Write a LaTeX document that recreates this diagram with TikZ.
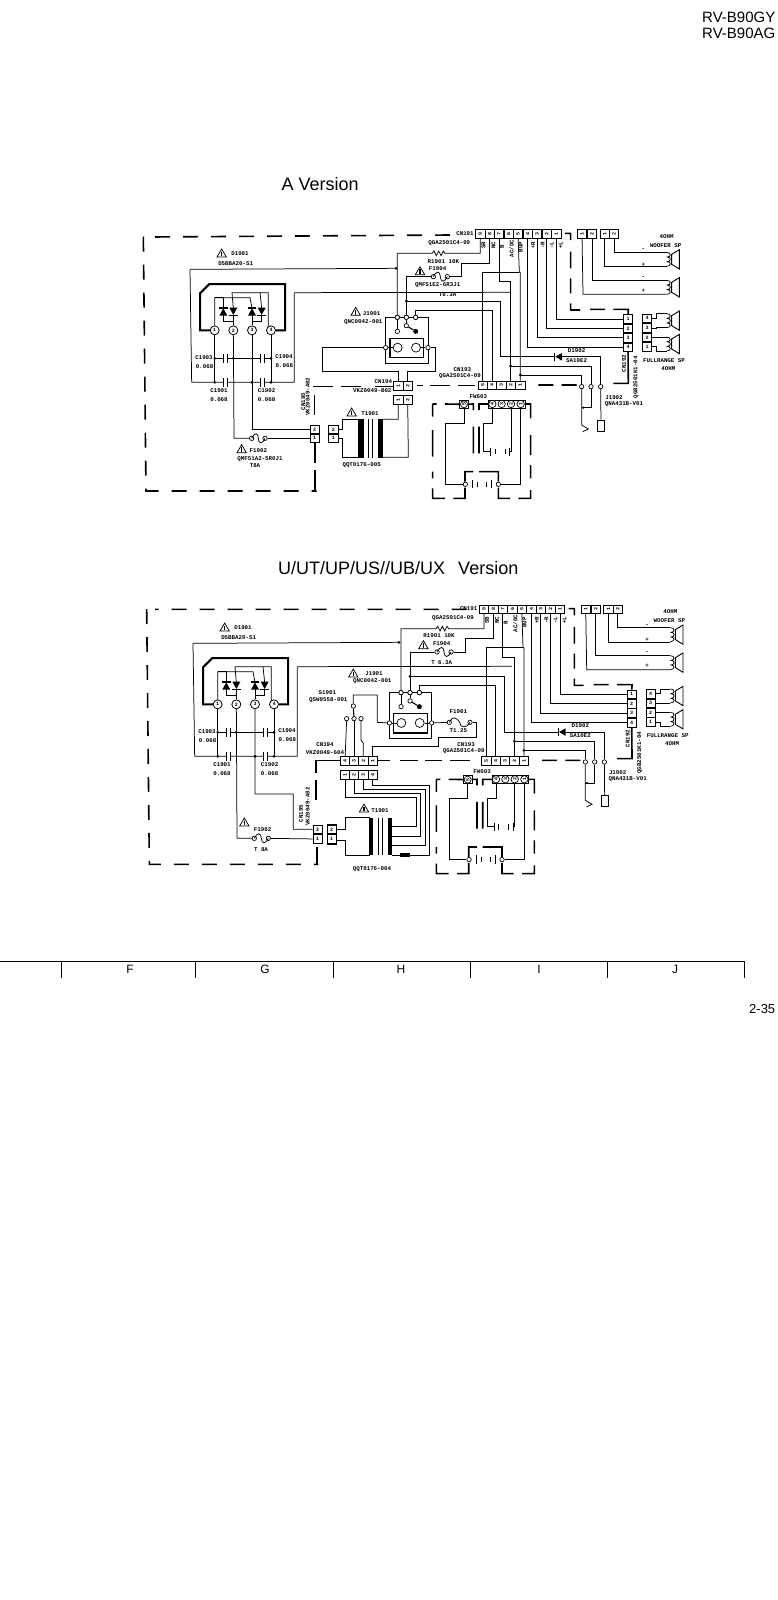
\documentclass[tikz,border=0pt]{standalone}
\usepackage{fontspec}
\setmainfont{Liberation Sans}
\newfontfamily\schfam{Liberation Mono}
\newcounter{labn}
\newcommand\schf{\schfam\bfseries\fontsize{5.8}{6}\selectfont}
\newcommand\pinf{\schfam\bfseries\fontsize{5}{5}\selectfont}
\tikzset{
 wire/.style={line width=.75pt,line join=miter},
 bord/.style={line width=1.6pt},
 heavy/.style={line width=2pt},
 pinbox/.style={draw,line width=.7pt,minimum width=9.3pt,minimum height=8.8pt,inner sep=0pt,font=\pinf,fill=white},
 term/.style={circle,draw,line width=.7pt,fill=white,minimum size=4.4pt,inner sep=0pt},
 numc/.style={circle,draw,line width=.8pt,fill=white,minimum size=9pt,inner sep=0pt,font=\pinf},
 jdot/.style={circle,fill=black,minimum size=3pt,inner sep=0pt},
 lab/.style={inner sep=0pt,font=\schf},
 big/.style={inner sep=0pt,anchor=base west},
}
\newcommand\lab[3]{\stepcounter{labn}\node[lab] (t\thelabn) at (#1,#2) {#3};}
\newcommand\rlab[3]{\stepcounter{labn}\node[lab,rotate=90] (t\thelabn) at (#1,#2) {#3};}
\newcommand\warn[2]{\draw[wire] (#1-14,#2+11)--(#1,#2-13)--(#1+14,#2+11)--cycle; \draw[line width=1.1pt] (#1,#2-5)--(#1,#2+9);}
\newcommand\capc[2]{\fill[white] (#1-6,#2-3) rectangle (#1+6,#2+3);
 \draw[line width=1pt] (#1-6,#2-13)--(#1-6,#2+13) (#1+6,#2-13)--(#1+6,#2+13);}
\newcommand\dup[2]{\fill (#1-12,#2+12)--(#1+12,#2+12)--(#1,#2-10)--cycle; \draw[line width=1.1pt] (#1-13,#2-11)--(#1+13,#2-11);}
\newcommand\ddn[2]{\fill (#1-12,#2-12)--(#1+12,#2-12)--(#1,#2+10)--cycle; \draw[line width=1.1pt] (#1-13,#2+11)--(#1+13,#2+11);}
\newcommand\scurve[3]{\draw[wire] (#1,#3) .. controls (#1+9,#3-18) and (#1+20,#3-18) .. ({(#1+#2)/2},#3) .. controls ({(#1+#2)/2+1},#3+18) and (#2-9,#3+18) .. (#2,#3);}
\newcommand\spk[1]{%
 \draw[wire] (800,#1-21) .. controls (814,#1-21) and (814,#1-7) .. (802,#1-7)
   .. controls (814,#1-7) and (814,#1+7) .. (802,#1+7)
   .. controls (814,#1+7) and (814,#1+21) .. (800,#1+21);
 \draw[line width=.9pt] (815,#1-15)--(838,#1-29)--(838,#1+29)--(815,#1+15)--cycle;}
\newcommand\leftblock[1]{
 \foreach \n/\x in {1/254,2/310,3/366,4/423}{\node[numc] (#1c\n) at (\x,346) {\n};}
 \draw[heavy] (#1c1) -- (210,346) -- (210,235) -- (238,207) -- (465,207) -- (465,346) -- (#1c4);
 \draw[wire] (#1c1) -- (254,248) -- (360,248) -- (366,280);
 \draw[wire] (254,248) -- (280,248) -- (280,280);
 \draw[wire] (310,280) -- (306,233) -- (415,233) -- (415,336);
 \draw[wire] (395,280) -- (390,233);
 \draw[wire] (280,300) -- (280,320) -- (310,320);
 \draw[wire] (395,300) -- (395,320) -- (366,320);
 \draw[wire] (#1c2) -- (310,300);
 \draw[wire] (#1c3) -- (366,300);
 \dup{280}{290}\ddn{310}{290}\dup{366}{290}\ddn{395}{290}
 \draw[wire] (#1c1) -- (254,502);
 \draw[wire] (#1c4) -- (423,502);
 \draw[wire] (254,430) -- (423,430);
 \draw[wire] (180,163) -- (185,502) -- (493,502) -- (493,233);
 \capc{285}{430}\capc{398}{430}\capc{285}{502}\capc{398}{502}
 \foreach \x/\y in {254/430,310/430,423/430,254/502,366/502,423/502}{\node[jdot] at (\x,\y) {};}
 \warn{275}{115}
 \lab{330}{117}{D1901}\lab{317}{145}{D5BBA20-S1}
 \lab{222}{428}{C1903}\lab{224}{455}{0.068}
 \lab{462}{425}{C1904}\lab{463}{453}{0.068}
 \lab{267}{527}{C1901}\lab{267}{555}{0.068}
 \lab{410}{527}{C1902}\lab{410}{555}{0.068}
}
\newcommand\rightblock[1]{
 \foreach \n/\x in {9/241,8/269,7/297,6/326,5/354,4/383,3/411,2/440,1/469}{\node[pinbox] (#1p\n) at (\x,57) {\rotatebox{90}{\n}};}
 \foreach \n/\x in {5/248,4/276,3/304,2/332,1/361}{\node[pinbox] (#1q\n) at (\x,511) {\rotatebox{90}{\n}};}
 \node[pinbox] (#1sa) at (546,57) {\rotatebox{90}{1}};
 \node[pinbox] (#1sb) at (576,57) {\rotatebox{90}{2}};
 \node[pinbox] (#1sc) at (614,57) {\rotatebox{90}{1}};
 \node[pinbox] (#1sd) at (642,57) {\rotatebox{90}{2}};
 \foreach \n/\y in {1/312,2/340,3/368,4/397}{\node[pinbox] (#1r\n) at (684,\y) {\n};}
 \foreach \n/\y in {4/310,3/339,2/367,1/395}{\node[pinbox] (#1f\n) at (741,\y) {\n};}
 \node[term] (#1Jl) at (-8,307) {};
 \node[term] (#1Jm) at (19,307) {};
 \node[term] (#1Jr) at (47,307) {};
 \node[term] (#1Jb) at (-8,349) {};
 \node[term] (#1Jc) at (19,332) {};
 \node[circle,fill=black,minimum size=5pt,inner sep=0pt] (#1Jd) at (47,349) {};
 \draw[wire] (-43,307) rectangle (84,445);
 \node[term] (#1Jl) at (-8,307) {};
 \node[term] (#1Jm) at (19,307) {};
 \node[term] (#1Jr) at (47,307) {};
 \node[term] (#1Ja) at (-43,398) {};
 \node[term] (#1Je) at (84,398) {};
 \draw[line width=1.4pt,fill=white] (-30,370) rectangle (71,428);
 \node[circle,draw,line width=.7pt,minimum size=9pt,inner sep=0pt] (#1Jp) at (-7,398) {};
 \node[circle,draw,line width=.7pt,minimum size=9pt,inner sep=0pt] (#1Jq) at (48,398) {};
 \draw[wire] (#1Jl) -- (#1Jb);
 \draw[wire] (#1Jm) -- (#1Jc);
 \draw[line width=1.1pt] (#1Jc) -- (#1Jd);
 \draw[wire] (#1Ja) -- (#1Jp) (#1Jq) -- (#1Je);
 \draw[wire] (#1p9) -- (241,115) -- (135,115) -- (130,108) -- (123,122) -- (116,108) -- (109,122) -- (102,108) -- (97,115) -- (-8,115) -- (#1Jl);
 \node[term] (#1Fa) at (100,185) {};
 \node[term] (#1Fb) at (142,185) {};
 \scurve{100}{142}{185}
 \draw[wire] (#1p8) -- (269,145) -- (185,145) -- (185,185) -- (#1Fb);
 \draw[wire] (#1Fa) -- (19,185) -- (#1Jm);
 \draw[wire] (#1p7) -- (297,200) -- (332,200) -- (#1q2);
 \draw[wire] (#1p5) -- (358,172) -- (361,172) -- (#1q1);
 \draw[wire] (358,172) -- (248,172) -- (#1q5);
 \draw[wire] (#1Jr) -- (47,285) -- (276,285) -- (#1q4);
 \draw[wire] (#1p4) -- (383,397) -- (#1r4);
 \draw[wire] (#1p3) -- (411,368) -- (#1r3);
 \draw[wire] (#1p2) -- (440,340) -- (#1r2);
 \draw[wire] (#1p1) -- (469,312) -- (#1r1);
 \node[term] (#1ja) at (545,515) {};
 \node[term] (#1jb) at (573,515) {};
 \node[term] (#1jc) at (602,515) {};
 \draw[wire] (19,258) -- (302,258) -- (302,425) -- (463,425);
 \fill (486,414)--(486,437)--(466,425)--cycle;
 \draw[line width=1.1pt] (464,413)--(464,438);
 \draw[wire] (486,425) -- (602,425) -- (#1jc);
 \draw[wire] (332,453) -- (573,453) -- (#1jb);
 \draw[wire] (361,480) -- (545,480) -- (#1ja);
 \node[jdot] (#1d1) at (19,258) {};
 \node[jdot] (#1d2) at (332,453) {};
 \node[jdot] (#1d3) at (361,480) {};
 \draw[wire] (#1ja) -- (545,630) -- (565,642) -- (548,650);
 \draw[wire] (#1jb) -- (573,578) -- (545,578);
 \node[jdot,minimum size=2.4pt] (#1d4) at (550,578) {};
 \node[draw,line width=.7pt,minimum width=7pt,minimum height=11.5pt,inner sep=0pt] (#1jp) at (603,632) {};
 \draw[wire] (#1jc) -- (#1jp);
 \draw[wire] (#1sd) -- (642,112) -- (800,112);
 \draw[wire] (#1sc) -- (614,155) -- (800,155);
 \spk{133}
 \draw[wire] (#1sb) -- (576,195) -- (800,195);
 \draw[wire] (#1sa) -- (549,238) -- (800,238);
 \spk{217}
 \spk{317}\spk{387}
 \draw[wire] (#1f4) -- (770,310) -- (770,296) -- (800,296);
 \draw[wire] (#1f3) -- (770,339) -- (770,338) -- (800,338);
 \draw[wire] (#1f2) -- (770,367) -- (770,366) -- (800,366);
 \draw[wire] (#1f1) -- (770,395) -- (770,408) -- (800,408);
 \draw[bord] (495,55) -- (512,55) -- (512,75) (512,110) -- (512,160) (512,190) -- (512,235) (512,265) -- (512,285) -- (540,285)
   (570,283) -- (615,283) (640,283) -- (685,283) -- (#1r1);
 \draw[bord] (415,510) -- (460,510) (485,510) -- (530,510) (640,505) -- (685,505) -- (#1r4);
 \node[pinbox,minimum size=8.5pt,line width=.9pt] (#1w5b) at (192,568) {};
 \node[term,minimum size=7pt,font=\pinf] (#1w5) at (192,568) {\rotatebox{90}{5}};
 \draw[line width=.9pt] (265,555) rectangle (375,580);
 \foreach \n/\x in {4/277,3/305,2/333,1/362}{\node[term,minimum size=7.4pt,font=\pinf] (#1w\n) at (\x,567) {\rotatebox{90}{\n}};}
 \draw[bord] (98,567) -- (98,605) (98,645) -- (98,725) (98,770) -- (98,790) (98,820) -- (98,850) -- (135,850)
   (98,567) -- (110,567) (135,567) -- (#1w5b) (#1w5b) -- (220,567) -- (220,585) (237,585) -- (237,567) -- (265,567)
   (375,567) -- (392,567) -- (392,610) (392,660) -- (392,720) (392,750) -- (392,790) (392,825) -- (392,850) -- (355,850)
   (220,635) -- (220,715) (237,635) -- (237,715)
   (220,770) -- (195,770) -- (195,800) (237,770) -- (295,770) -- (295,800)
   (195,818) -- (195,850) -- (160,850) (295,818) -- (295,850) -- (330,850);
 \node[term] (#1wa) at (196,808) {};
 \node[term] (#1wb) at (295,808) {};
 \draw[wire] (#1w5b) -- (192,625) -- (137,625) -- (137,808) -- (#1wa);
 \draw[wire] (#1w1) -- (362,808) -- (#1wb);
 \draw[wire] (#1w4) -- (277,625) -- (250,625) -- (250,708) -- (272,708);
 \draw[wire] (#1w2) -- (333,708) -- (328,708);
 \draw[line width=.9pt] (218,795)--(218,820) (232,800)--(232,815) (260,800)--(260,815) (275,795)--(275,820);
 \draw[line width=.9pt] (272,698)--(272,722) (285,702)--(285,718) (315,702)--(315,718) (328,698)--(328,722);
 \lab{195}{55}{CN191}\lab{148}{83}{QGA2501C4-09}
 \rlab{250}{90}{SB}\rlab{280}{90}{NC}\rlab{306}{96}{B}\rlab{335}{100}{AC/DC}\rlab{362}{96}{BUP}
 \rlab{400}{90}{+R}\rlab{428}{90}{-R}\rlab{455}{90}{-L}\rlab{482}{90}{+L}
 \lab{800}{65}{4OHM}\lab{797}{92}{WOOFER SP}
 \lab{730}{105}{-}\lab{730}{148}{+}\lab{730}{187}{-}\lab{730}{227}{+}
 \lab{530}{407}{D1902}\lab{530}{437}{SA10E2}
 \lab{792}{437}{FULLRANGE SP}\lab{805}{460}{4OHM}
 \rlab{672}{445}{CN192}\rlab{708}{487}{QGB2501K1-04}
 \lab{187}{463}{CN193}\lab{180}{483}{QGA2501C4-09}
 \lab{642}{547}{J1902}\lab{672}{566}{QNA431B-V01}
 \lab{235}{545}{FW603}
}
\begin{document}
\begin{tikzpicture}[x=1pt,y=-1pt]
\useasboundingbox (0,0) rectangle (778,1600);
\fill[white] (0,0) rectangle (778,1600);
\node[big,font=\fontsize{15}{15}\selectfont] (m1) at (702,23) {RV-B90GY};
\node[big,font=\fontsize{15}{15}\selectfont] (m2) at (702,39) {RV-B90AG};
\node[big,font=\fontsize{18}{18}\selectfont] (m3) at (281.5,190.7) {A Version};
\node[big,font=\fontsize{18}{18}\selectfont] (m4) at (278,574) {U/UT/UP/US//UB/UX\ \ \,Version};
\draw[line width=.8pt] (0,961) -- (744,961);
\foreach \x in {61,195,333.5,470,607,744}{\draw[line width=.7pt] (\x,961) -- (\x,978);}
\foreach \t/\x in {F/130,G/265,H/401,I/539,J/675}{\node[inner sep=0pt,font=\fontsize{12}{12}\selectfont] (b\t) at (\x,969.5) {\t};}
\node[big,font=\fontsize{13}{13}\selectfont] (m5) at (749,1013) {2-35};
% ============ A version
\begin{scope}[shift={(400,215)},x=.33333pt,y=-.33333pt]
 \rightblock{a}
 \node[pinbox] (a94a) at (-5,513) {\rotatebox{90}{1}};
 \node[pinbox] (a94b) at (23,513) {\rotatebox{90}{2}};
 \node[pinbox] (a94c) at (-5,555) {\rotatebox{90}{1}};
 \node[pinbox] (a94d) at (23,555) {\rotatebox{90}{2}};
 \draw[wire] (aJe) -- (106,398) -- (106,470) -- (23,470) -- (a94b);
 \draw[bord] (50,512) -- (68,512) (90,512) -- (150,512) (175,512) -- (225,512);
 \draw[wire] (aJa) -- (-232,398) -- (-232,470) -- (-5,470) -- (a94a);
 \warn{-133}{290}
 \lab{-85}{295}{J1901}\lab{-110}{322}{QNC0042-001}
 \lab{-50}{500}{CN194}\lab{-83}{528}{VKZ0049-B02}
 \lab{113}{160}{F1904}\warn{60}{168}
 \lab{130}{140}{R1901 10K}\lab{113}{210}{QMF51E2-6R3J1}\lab{143}{238}{T6.3A}
\end{scope}
\begin{scope}[shift={(130,215)},x=.33333pt,y=-.33333pt]
 \leftblock{al}
 \draw[wire] (180,163) -- (798,160);
 \node[jdot] (aldot) at (798,160) {};
 \draw[wire] (493,233) -- (1140,232);
 \draw[bord,dash pattern=on 15pt off 13pt] (960,60) -- (65,66) (40,65) -- (48,828) -- (560,828);
 \node[pinbox] (a95b) at (554,643) {2};
 \node[pinbox] (a95a) at (554,670) {1};
 \node[pinbox] (atb) at (610,643) {2};
 \node[pinbox] (ata) at (610,670) {1};
 \draw[wire] (alc3) -- (366,643) -- (a95b);
 \node[term] (alf1) at (365,670) {};
 \node[term] (alf2) at (405,670) {};
 \scurve{365}{405}{670}
 \draw[wire] (alc2) -- (312,670) -- (alf1);
 \draw[wire] (alf2) -- (a95a);
 \draw[bord] (553,540) -- (553,600) (555,684) -- (555,745) (555,765) -- (555,828);
 \draw[bord] (550,515) -- (610,515) (632,515) -- (692,515) (735,515) -- (788,515);
 \fill (685,613) rectangle (702,728);
 \fill (743,613) rectangle (760,728);
 \draw[wire] (715,613) -- (715,728) (728,613) -- (728,728);
 \draw[wire] (atb) -- (638,643) -- (638,613) -- (690,613);
 \draw[wire] (ata) -- (638,670) -- (638,727) -- (690,727);
 \draw[wire] (755,613) -- (805,613) -- (a94c);
 \draw[wire] (755,727) -- (835,727) -- (a94d);
 \warn{665}{592}\lab{720}{595}{T1901}\lab{695}{750}{QQT0176-005}
 \warn{335}{702}\lab{385}{708}{F1902}\lab{390}{732}{QMF51A2-5R0J1}\lab{375}{752}{T8A}
 \rlab{520}{560}{CN195}\rlab{533}{545}{VKZ0049-A02}
\end{scope}
% ============ U version
\begin{scope}[shift={(403.7,590.3)},x=.33333pt,y=-.33333pt]
 \rightblock{b}
 \warn{59}{164}
 \lab{114}{159}{F1904}\lab{106}{137}{R1901 10K}\lab{114}{216}{T 6.3A}
\end{scope}
\begin{scope}[shift={(290,640)},x=.33333pt,y=-.33333pt]
 \foreach \n/\x in {4/165,3/192,2/220,1/248}{\node[pinbox] (bu\n) at (\x,362) {\rotatebox{90}{\n}};}
 \foreach \n/\x in {1/165,2/192,3/220,4/248}{\node[pinbox] (bv\n) at (\x,405) {\rotatebox{90}{\n}};}
 \node[term] (bs0) at (190,198) {};
 \node[term] (bs1) at (170,236) {};
 \node[term] (bs2) at (192,236) {};
 \node[term] (bs3) at (213,236) {};
 \draw[line width=1.1pt] (bs0) -- (bs2);
 \draw[wire] (bs1) -- (bu4);
 \draw[wire] (bs2) -- (bu3);
 \draw[wire] (bs3) -- (213,300) -- (220,310) -- (bu2);
 \draw[wire] (bJa) -- (262,247) -- (262,165) -- (190,165) -- (bs0);
 \node[term] (bf1) at (478,247) {};
 \node[term] (bf2) at (540,247) {};
 \scurve{478}{540}{247}
 \draw[wire] (bJe) -- (bf1);
 \draw[wire] (bf2) -- (558,247) -- (558,292) -- (445,292) -- (445,320) -- (248,320) -- (bu1);
 \draw[bord] (150,362) -- (78,362) -- (78,400) (78,420) -- (78,480);
 \draw[bord] (265,362) -- (300,362) (330,362) -- (385,362) (405,362) -- (455,362) (480,362) -- (540,362);
 \node[pinbox] (btb) at (125,567) {2};
 \node[pinbox] (bta) at (125,600) {1};
 \fill (237,533) rectangle (250,645);
 \fill (293,533) rectangle (307,645);
 \draw[wire] (264,533) -- (264,645) (277,533) -- (277,645);
 \draw[wire] (btb) -- (167,567) -- (167,533) -- (240,533);
 \draw[wire] (bta) -- (167,600) -- (167,645) -- (240,645);
 \draw[wire] (bv1) -- (165,472) -- (378,472) -- (378,560) -- (305,560);
 \draw[wire] (bv2) -- (192,460) -- (392,460) -- (392,588) -- (305,588);
 \draw[wire] (bv3) -- (220,448) -- (405,448) -- (405,615) -- (305,615);
 \draw[wire] (bv4) -- (248,435) -- (418,435) -- (418,645) -- (305,645);
 \fill (331,640) rectangle (359,651);
 \warn{222}{505}\lab{270}{513}{T1901}\lab{246}{687}{QQT0176-004}
 \warn{190}{100}\lab{252}{102}{J1901}\lab{247}{123}{QNC0042-001}
 \lab{112}{158}{S1901}\lab{115}{180}{QSW0558-001}
 \lab{105}{315}{CN194}\lab{105}{337}{VKZ0049-604}
 \lab{505}{215}{F1901}\lab{505}{272}{T1.25}
\end{scope}
\begin{scope}[shift={(130,585)},x=.33333pt,y=-.33333pt]
 \node[pinbox] (b95b) at (563,733) {2};
 \node[pinbox] (b95a) at (563,762) {1};
 \node[pinbox] (bxx) at (605,733) {2};
 \node[pinbox] (byy) at (605,762) {1};
 \draw[bord] (561,785) -- (561,838);
 \draw[bord,dash pattern=on 15pt off 13pt] (1010,73) -- (75,73) (50,72) -- (58,838) -- (565,838);
\end{scope}
\begin{scope}[shift={(133,589)},x=.33333pt,y=-.33333pt]
 \leftblock{bl}
 \draw[wire] (180,163) -- (798,160);
 \node[jdot] (bldot) at (798,160) {};
 \draw[wire] (493,233) -- (1137,232);
 \node[term] (blf1) at (364,748) {};
 \node[term] (blf2) at (406,748) {};
 \scurve{364}{406}{748}
 \draw[wire] (blc2) -- (312,748) -- (blf1);
 \draw[wire] (blf2) -- (b95a);
 \draw[wire] (blc3) -- (366,615) -- (481,615) -- (481,721) -- (b95b);
 \warn{334}{700}\lab{389}{723}{F1902}\lab{384}{781}{T 8A}
 \rlab{504}{673}{CN195}\rlab{524}{652}{VKZ0049-A02}
\end{scope}
\end{tikzpicture}
\end{document}
